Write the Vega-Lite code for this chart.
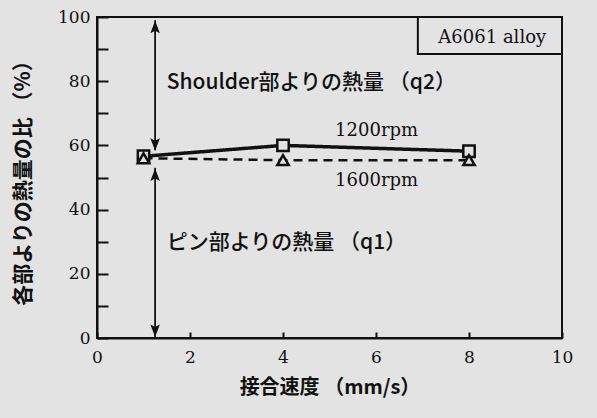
{
  "$schema": "https://vega.github.io/schema/vega-lite/v6.json",
  "width": 465,
  "height": 321,
  "autosize": {"type": "none"},
  "padding": {"left": 97, "top": 17, "right": 35, "bottom": 80},
  "background": "#e3e3e3",
  "config": {
    "view": {"stroke": "#111", "strokeWidth": 2},
    "axis": {"grid": false, "domainColor": "#111", "domainWidth": 2, "tickColor": "#111", "tickWidth": 2,
      "labelFont": "DejaVu Serif", "labelFontSize": 17, "labelColor": "#111",
      "titleFont": "Noto Sans CJK JP", "titleColor": "#111", "titleFontWeight": "bold"}
  },
  "encoding": {
    "x": {"field": "x", "type": "quantitative", "scale": {"domain": [0, 10], "nice": false},
      "axis": {"title": "接合速度 （mm/s）", "titleFontSize": 20, "values": [0, 2, 4, 6, 8, 10], "tickSize": -6, "labelPadding": 17, "titlePadding": 12, "labelFlush": false}},
    "y": {"field": "y", "type": "quantitative", "scale": {"domain": [0, 100], "nice": false},
      "axis": {"title": "各部よりの熱量の比 （%）", "titleFontSize": 21, "values": [0, 10, 20, 30, 40, 50, 60, 70, 80, 90, 100], "tickSize": -11,
        "labelExpr": "datum.value % 20 === 0 ? datum.label : ''", "labelPadding": 18, "titlePadding": 24, "labelFlush": false,
        "encode": {"ticks": {"update": {"x2": {"signal": "datum.value % 20 === 0 ? 11 : 6"}}}}}}
  },
  "layer": [
    {
      "data": {"values": [
        {"x": 6.9, "x2": 10, "y": 100, "y2": 88.5}
      ]},
      "mark": {"type": "rect", "fill": null, "stroke": "#111", "strokeWidth": 2},
      "encoding": {"x2": {"field": "x2"}, "y2": {"field": "y2"}}
    },
    {
      "data": {"values": [
        {"x": 1, "y": 56.6, "series": "1200rpm"},
        {"x": 4, "y": 60, "series": "1200rpm"},
        {"x": 8, "y": 58.2, "series": "1200rpm"},
        {"x": 1, "y": 56, "series": "1600rpm"},
        {"x": 4, "y": 55.4, "series": "1600rpm"},
        {"x": 8, "y": 55.4, "series": "1600rpm"}
      ]},
      "layer": [
        {
          "mark": {"type": "line", "color": "#111"},
          "encoding": {
            "detail": {"field": "series"},
            "strokeDash": {"field": "series", "type": "nominal", "scale": {"domain": ["1200rpm", "1600rpm"], "range": [[1, 0], [9, 6]]}, "legend": null},
            "strokeWidth": {"field": "series", "type": "nominal", "scale": {"domain": ["1200rpm", "1600rpm"], "range": [3.5, 2.5]}, "legend": null}
          }
        },
        {
          "mark": {"type": "point", "filled": true, "fill": "#e3e3e3", "stroke": "#111", "strokeWidth": 2.5, "size": 130, "opacity": 1},
          "encoding": {
            "shape": {"field": "series", "type": "nominal", "scale": {"domain": ["1200rpm", "1600rpm"], "range": ["square", "triangle-up"]}, "legend": null}
          }
        }
      ]
    },
    {
      "data": {"values": [
        {"x": 1.25, "y": 99, "y2": 58.5},
        {"x": 1.25, "y": 53, "y2": 0.3}
      ]},
      "mark": {"type": "rule", "color": "#111", "strokeWidth": 1.8},
      "encoding": {"y2": {"field": "y2"}}
    },
    {
      "data": {"values": [
        {"x": 1.25, "y": 98.8},
        {"x": 1.25, "y": 52.8}
      ]},
      "mark": {"type": "point", "filled": true, "color": "#111", "size": 625, "opacity": 1, "shape": "M0,0L0.38,1L0,0.8L-0.38,1Z"}
    },
    {
      "data": {"values": [
        {"x": 1.25, "y": 58.3},
        {"x": 1.25, "y": 0.3}
      ]},
      "mark": {"type": "point", "filled": true, "color": "#111", "size": 625, "opacity": 1, "shape": "M0,0L0.38,-1L0,-0.8L-0.38,-1Z"}
    },
    {
      "data": {"values": [
        {"x": 1.5, "y": 79.3, "label": "Shoulder部よりの熱量 （q2）"},
        {"x": 1.5, "y": 29.7, "label": "ピン部よりの熱量 （q1）"}
      ]},
      "mark": {"type": "text", "align": "left", "baseline": "middle", "font": "Noto Sans CJK JP", "fontSize": 21, "fontWeight": 500, "color": "#111"},
      "encoding": {"text": {"field": "label"}}
    },
    {
      "data": {"values": [
        {"x": 5.12, "y": 64.5, "label": "1200rpm"},
        {"x": 5.12, "y": 49, "label": "1600rpm"}
      ]},
      "mark": {"type": "text", "align": "left", "baseline": "middle", "font": "DejaVu Serif", "fontSize": 18, "color": "#111"},
      "encoding": {"text": {"field": "label"}}
    },
    {
      "data": {"values": [
        {"x": 8.5, "y": 93.5, "label": "A6061 alloy"}
      ]},
      "mark": {"type": "text", "align": "center", "baseline": "middle", "font": "DejaVu Serif", "fontSize": 18, "color": "#111"},
      "encoding": {"text": {"field": "label"}}
    }
  ]
}
